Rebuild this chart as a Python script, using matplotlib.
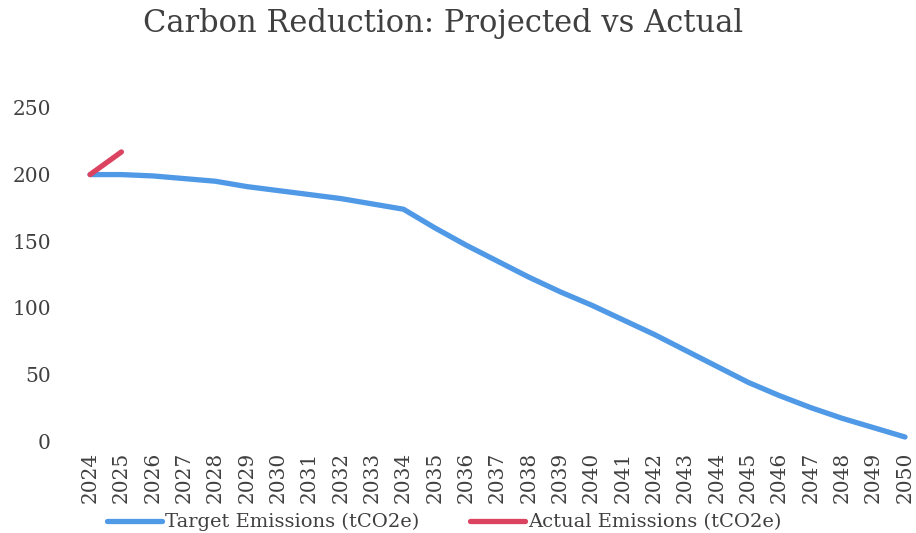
import matplotlib.pyplot as plt

years = [str(y) for y in range(2024, 2051)]
target = [200, 200, 199, 197, 195, 191, 188, 185, 182, 178, 174,
          160, 147, 135, 123, 112, 102, 91, 80, 68, 56,
          44, 34, 25, 17, 10, 3]
actual = [200, 217]

plt.rcParams['font.family'] = ['DejaVu Serif']
text_col = '#404040'

fig = plt.figure(figsize=(9.16, 5.33), dpi=100)
ax = fig.add_axes([0.0949, 0.1726, 0.8965, 0.6248])

x = list(range(len(years)))
ax.plot(x, target, color='#4F99E6', linewidth=3.8, solid_capstyle='round',
        label='Target Emissions (tCO2e)')
ax.plot(x[:len(actual)], actual, color='#DB4360', linewidth=3.8,
        solid_capstyle='round', label='Actual Emissions (tCO2e)')

ax.set_xlim(-0.1, len(years) - 0.9)
ax.set_ylim(0, 250)
ax.set_yticks([0, 50, 100, 150, 200, 250])
ax.set_xticks(x)
ax.set_xticklabels(years, rotation=90)
ax.tick_params(length=0, labelsize=14.5, colors=text_col)
ax.tick_params(axis='y', pad=26)
ax.tick_params(axis='x', pad=8)
for s in ax.spines.values():
    s.set_visible(False)

fig.suptitle('Carbon Reduction: Projected vs Actual', x=0.484, y=0.985,
             fontsize=22, color=text_col)

fig.legend(loc='lower center', bbox_to_anchor=(0.485, -0.03), ncol=2,
           frameon=False, fontsize=14, handlelength=2.85, handletextpad=0.15,
           columnspacing=2.6, labelcolor=text_col)

fig.savefig('out.png', dpi=100)
